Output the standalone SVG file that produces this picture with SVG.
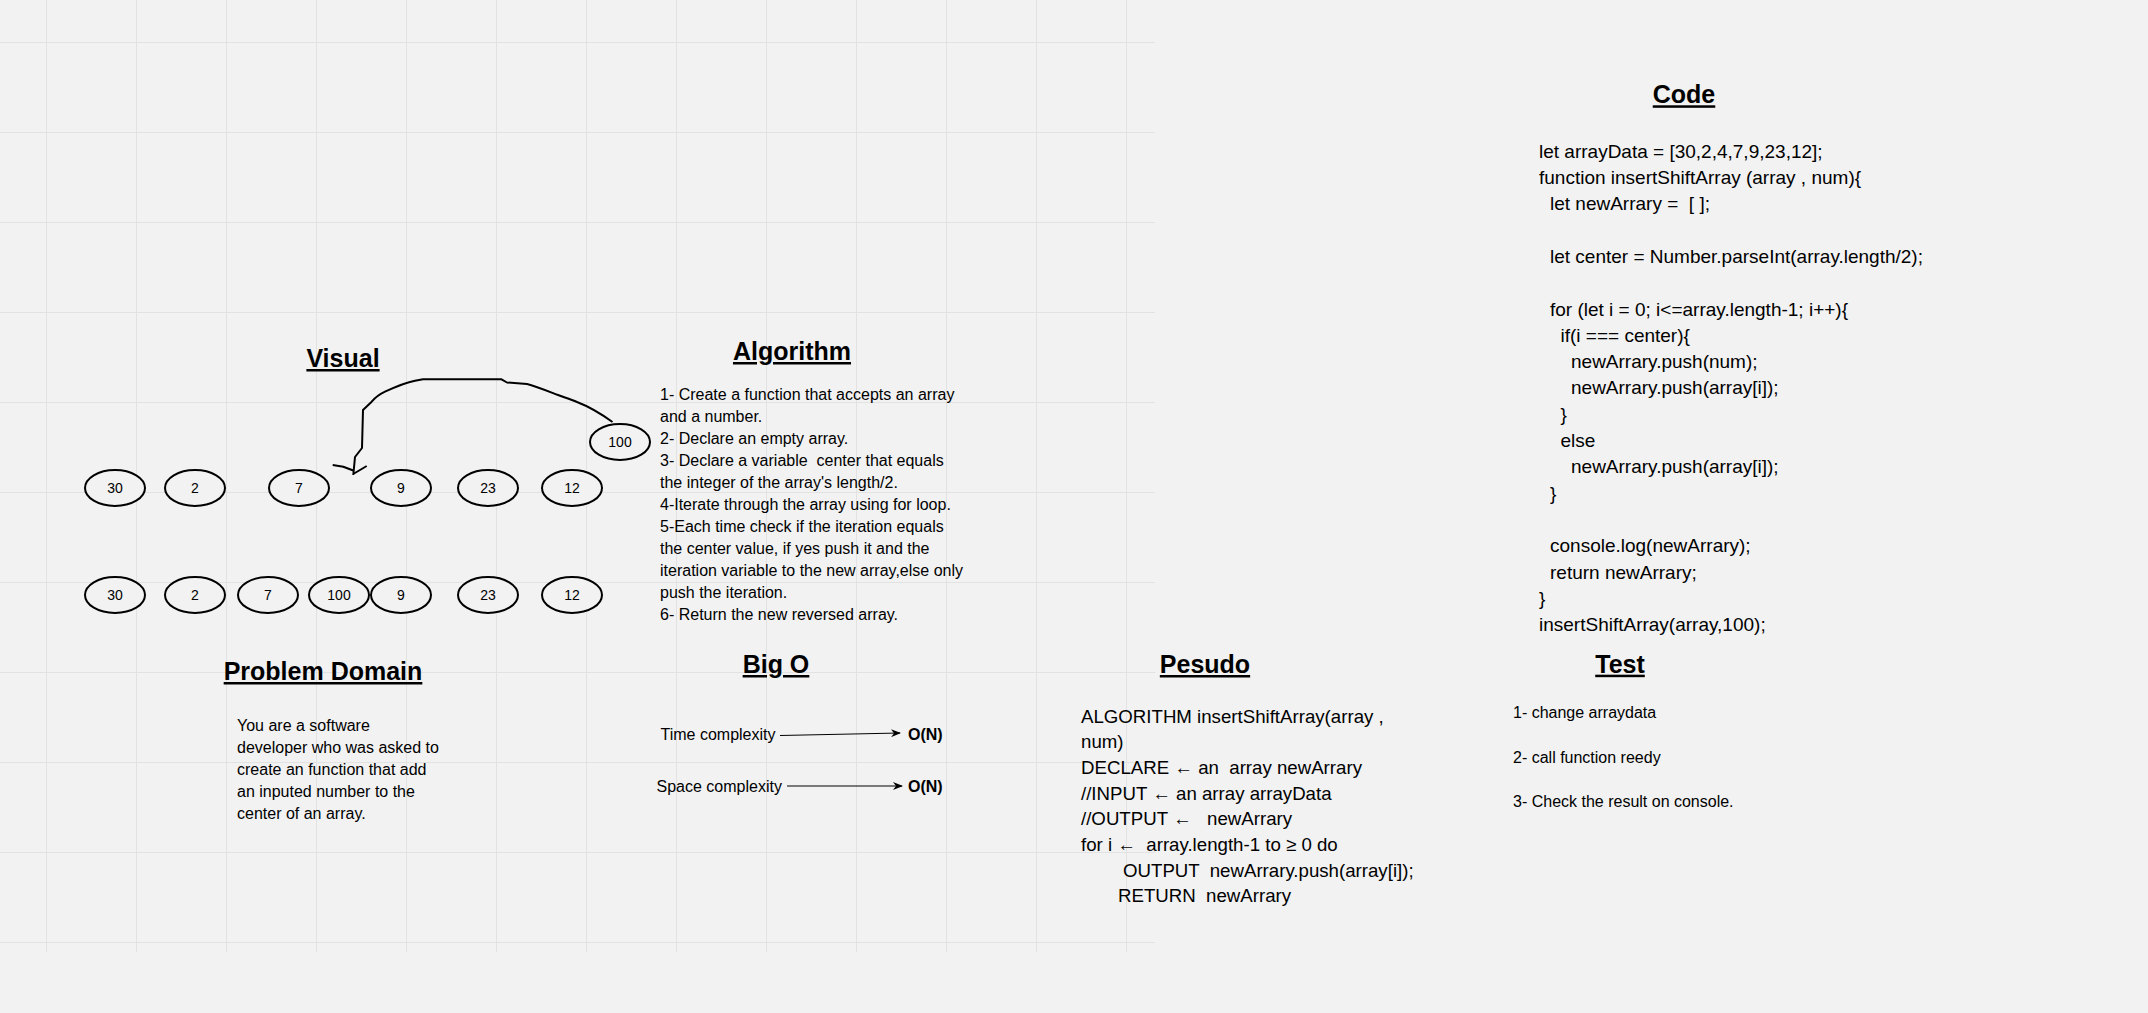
<svg xmlns="http://www.w3.org/2000/svg" width="2148" height="1013" viewBox="0 0 2148 1013">
<style>
text { font-family: "Liberation Sans", Arial, sans-serif; fill: #000; }
.title { font-size: 25px; font-weight: bold; text-decoration: underline; text-anchor: middle; }
.body16 { font-size: 16px; }
.code { font-size: 19px; }
.pseudo { font-size: 18.67px; }
.num { font-size: 14px; text-anchor: middle; }
.bold { font-size: 16px; font-weight: bold; }
.node ellipse { fill: #f2f2f2; stroke: #000; stroke-width: 2; }
.grid line { stroke: #e2e2e2; stroke-width: 1; }
.conn path { fill: none; stroke: #000; }
</style>
<defs>
<marker id="classic" viewBox="0 0 10 8" refX="9" refY="4" markerWidth="10" markerHeight="8" markerUnits="userSpaceOnUse" orient="auto">
<path d="M0,0 L10,4 L0,8 L3,4 Z" fill="#000"/>
</marker>
</defs>
<rect x="0" y="0" width="2148" height="1013" fill="#f2f2f2"/>
<g class="grid">
<line x1="46.5" y1="0" x2="46.5" y2="952"/>
<line x1="136.5" y1="0" x2="136.5" y2="952"/>
<line x1="226.5" y1="0" x2="226.5" y2="952"/>
<line x1="316.5" y1="0" x2="316.5" y2="952"/>
<line x1="406.5" y1="0" x2="406.5" y2="952"/>
<line x1="496.5" y1="0" x2="496.5" y2="952"/>
<line x1="586.5" y1="0" x2="586.5" y2="952"/>
<line x1="676.5" y1="0" x2="676.5" y2="952"/>
<line x1="766.5" y1="0" x2="766.5" y2="952"/>
<line x1="856.5" y1="0" x2="856.5" y2="952"/>
<line x1="946.5" y1="0" x2="946.5" y2="952"/>
<line x1="1036.5" y1="0" x2="1036.5" y2="952"/>
<line x1="1126.5" y1="0" x2="1126.5" y2="952"/>
<line x1="0" y1="42.5" x2="1155" y2="42.5"/>
<line x1="0" y1="132.5" x2="1155" y2="132.5"/>
<line x1="0" y1="222.5" x2="1155" y2="222.5"/>
<line x1="0" y1="312.5" x2="1155" y2="312.5"/>
<line x1="0" y1="402.5" x2="1155" y2="402.5"/>
<line x1="0" y1="492.5" x2="1155" y2="492.5"/>
<line x1="0" y1="582.5" x2="1155" y2="582.5"/>
<line x1="0" y1="672.5" x2="1155" y2="672.5"/>
<line x1="0" y1="762.5" x2="1155" y2="762.5"/>
<line x1="0" y1="852.5" x2="1155" y2="852.5"/>
<line x1="0" y1="942.5" x2="1155" y2="942.5"/>
</g>

<g id="visual-title"><text class="title" x="343" y="367">Visual</text></g>

<g id="r1-30" class="node"><ellipse cx="115" cy="488" rx="30" ry="18"/><text class="num" x="115" y="493">30</text></g>
<g id="r1-2" class="node"><ellipse cx="195" cy="488" rx="30" ry="18"/><text class="num" x="195" y="493">2</text></g>
<g id="r1-7" class="node"><ellipse cx="299" cy="488" rx="30" ry="18"/><text class="num" x="299" y="493">7</text></g>
<g id="r1-9" class="node"><ellipse cx="401" cy="488" rx="30" ry="18"/><text class="num" x="401" y="493">9</text></g>
<g id="r1-23" class="node"><ellipse cx="488" cy="488" rx="30" ry="18"/><text class="num" x="488" y="493">23</text></g>
<g id="r1-12" class="node"><ellipse cx="572" cy="488" rx="30" ry="18"/><text class="num" x="572" y="493">12</text></g>
<g id="top-100" class="node"><ellipse cx="620" cy="442" rx="30" ry="18"/><text class="num" x="620" y="447">100</text></g>

<g id="r2-30" class="node"><ellipse cx="115" cy="595" rx="30" ry="18"/><text class="num" x="115" y="600">30</text></g>
<g id="r2-2" class="node"><ellipse cx="195" cy="595" rx="30" ry="18"/><text class="num" x="195" y="600">2</text></g>
<g id="r2-7" class="node"><ellipse cx="268" cy="595" rx="30" ry="18"/><text class="num" x="268" y="600">7</text></g>
<g id="r2-100" class="node"><ellipse cx="339" cy="595" rx="30" ry="18"/><text class="num" x="339" y="600">100</text></g>
<g id="r2-9" class="node"><ellipse cx="401" cy="595" rx="30" ry="18"/><text class="num" x="401" y="600">9</text></g>
<g id="r2-23" class="node"><ellipse cx="488" cy="595" rx="30" ry="18"/><text class="num" x="488" y="600">23</text></g>
<g id="r2-12" class="node"><ellipse cx="572" cy="595" rx="30" ry="18"/><text class="num" x="572" y="600">12</text></g>

<g id="connectors" class="conn">
<path stroke-width="2" stroke-linejoin="round" d="M612.5,422 C600,413 590,407 577,402 C570,399 563,397 558,395 C545,390 535,386 527,384 L507,382.5 L501.5,379.3 L423,379.3 L415,380.7 C408,382 395,387 385,391.7 C378,395 374,399 371.7,401.7 L363,410 L362,448 L355,457 L353.3,475"/>
<path stroke-width="2" stroke-linejoin="round" d="M332.7,465 L343.3,466.7 L353.3,470.5 M366.7,466 L360,470 L354,473.5"/>
<path stroke-width="1" marker-end="url(#classic)" d="M780,735.5 L900,733"/>
<path stroke-width="1" marker-end="url(#classic)" d="M787,786 L902,786"/>
</g>

<g id="algorithm">
<text class="title" x="792" y="360">Algorithm</text>
<text class="body16" x="660">
<tspan x="660" y="399.5">1- Create a function that accepts an array</tspan>
<tspan x="660" y="421.5">and a number.</tspan>
<tspan x="660" y="443.5">2- Declare an empty array.</tspan>
<tspan x="660" y="465.5" xml:space="preserve">3- Declare a variable  center that equals</tspan>
<tspan x="660" y="487.5">the integer of the array's length/2.</tspan>
<tspan x="660" y="509.5">4-Iterate through the array using for loop.</tspan>
<tspan x="660" y="531.5">5-Each time check if the iteration equals</tspan>
<tspan x="660" y="553.5">the center value, if yes push it and the</tspan>
<tspan x="660" y="575.5">iteration variable to the new array,else only</tspan>
<tspan x="660" y="597.5">push the iteration.</tspan>
<tspan x="660" y="619.5">6- Return the new reversed array.</tspan>
</text>
</g>

<g id="problem-domain">
<text class="title" x="323" y="680">Problem Domain</text>
<text class="body16">
<tspan x="237" y="731">You are a software</tspan>
<tspan x="237" y="753">developer who was asked to</tspan>
<tspan x="237" y="775">create an function that add</tspan>
<tspan x="237" y="797">an inputed number to the</tspan>
<tspan x="237" y="819">center of an array.</tspan>
</text>
</g>

<g id="big-o">
<text class="title" x="776" y="673">Big O</text>
<text class="body16" x="660.5" y="740">Time complexity</text>
<text class="body16" x="656.5" y="791.5">Space complexity</text>
<text class="bold" x="908" y="740">O(N)</text>
<text class="bold" x="908" y="791.5">O(N)</text>
</g>

<g id="pesudo">
<text class="title" x="1205" y="673">Pesudo</text>
<text class="pseudo" xml:space="preserve"><tspan x="1081" y="722.7">ALGORITHM insertShiftArray(array ,</tspan><tspan x="1081" y="748.3">num)</tspan><tspan x="1081" y="774">DECLARE ← an  array newArrary</tspan><tspan x="1081" y="799.7">//INPUT ← an array arrayData</tspan><tspan x="1081" y="825.4">//OUTPUT ←   newArrary</tspan><tspan x="1081" y="851">for i ←  array.length-1 to ≥ 0 do</tspan><tspan x="1123" y="876.7">OUTPUT  newArrary.push(array[i]);</tspan><tspan x="1118" y="902.4">RETURN  newArrary</tspan></text>
</g>

<g id="test">
<text class="title" x="1620" y="672.7">Test</text>
<text class="body16" x="1513" y="718.3">1- change arraydata</text>
<text class="body16" x="1513" y="762.7">2- call function reedy</text>
<text class="body16" x="1513" y="806.7">3- Check the result on console.</text>
</g>

<g id="code">
<text class="title" x="1684" y="103.3">Code</text>
<text class="code" xml:space="preserve"><tspan x="1539" y="157.7">let arrayData = [30,2,4,7,9,23,12];</tspan><tspan x="1539" y="184">function insertShiftArray (array , num){</tspan><tspan x="1550" y="210.3">let newArrary =  [ ];</tspan><tspan x="1550" y="262.9">let center = Number.parseInt(array.length/2);</tspan><tspan x="1550" y="315.5">for (let i = 0; i&lt;=array.length-1; i++){</tspan><tspan x="1560.5" y="341.8">if(i === center){</tspan><tspan x="1571" y="368">newArrary.push(num);</tspan><tspan x="1571" y="394.4">newArrary.push(array[i]);</tspan><tspan x="1560.5" y="420.7">}</tspan><tspan x="1560.5" y="447">else</tspan><tspan x="1571" y="473.3">newArrary.push(array[i]);</tspan><tspan x="1550" y="499.6">}</tspan><tspan x="1550" y="552.2">console.log(newArrary);</tspan><tspan x="1550" y="578.5">return newArrary;</tspan><tspan x="1539" y="604.8">}</tspan><tspan x="1539" y="631">insertShiftArray(array,100);</tspan></text>
</g>
</svg>
